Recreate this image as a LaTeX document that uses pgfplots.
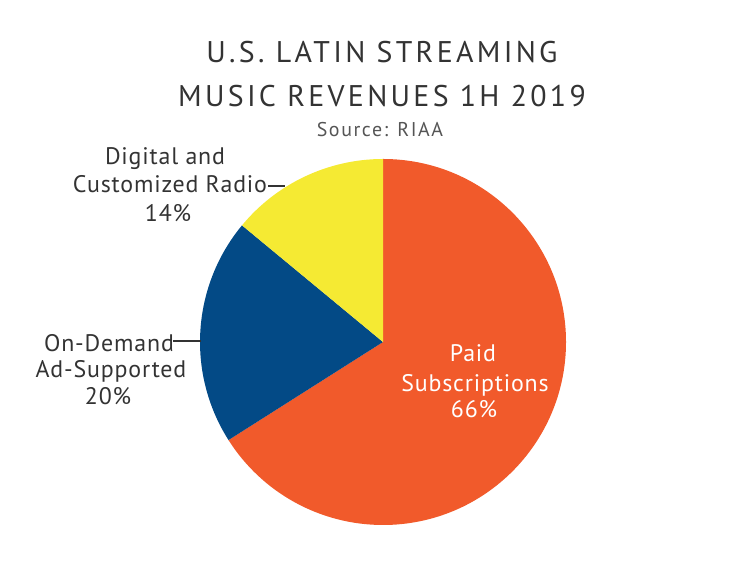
\documentclass[border=0pt]{standalone}
\usepackage{pgfplots}
\pgfplotsset{compat=1.18}
\usepackage{fontspec}
\setmainfont{PT Sans}
\newfontfamily\titlefont[LetterSpace=11]{PT Sans}
\newfontfamily\srcfont[LetterSpace=8]{PT Sans}
\newfontfamily\labfont[LetterSpace=3.5]{PT Sans}
\definecolor{paid}{HTML}{F15A2B}
\definecolor{ondemand}{HTML}{034A86}
\definecolor{digital}{HTML}{F5EA33}
\definecolor{txt}{HTML}{333333}
\definecolor{src}{HTML}{555555}
\def\valPaid{66}
\def\valDemand{20}
\def\valDigital{14}
\begin{document}
\begin{tikzpicture}[x=1bp,y=1bp]
\path (0,0) rectangle (732,573);
\begin{axis}[at={(383bp,231bp)}, anchor=center, hide axis, scale only axis,
  width=366bp, height=366bp, xmin=-1, xmax=1, ymin=-1, ymax=1, clip=false]
\pgfmathsetmacro{\aA}{90}
\pgfmathsetmacro{\aB}{90-3.6*\valPaid}
\pgfmathsetmacro{\aC}{\aB-3.6*\valDemand}
\pgfmathsetmacro{\aD}{\aC-3.6*\valDigital}
\fill[paid] (axis cs:0,0) -- (axis cs:{cos(\aA)},{sin(\aA)}) arc[start angle=\aA, end angle=\aB, radius=183bp] -- cycle;
\fill[ondemand] (axis cs:0,0) -- (axis cs:{cos(\aB)},{sin(\aB)}) arc[start angle=\aB, end angle=\aC, radius=183bp] -- cycle;
\fill[digital] (axis cs:0,0) -- (axis cs:{cos(\aC)},{sin(\aC)}) arc[start angle=\aC, end angle=\aD, radius=183bp] -- cycle;
\end{axis}
% title
\node[anchor=base, text=txt, font=\titlefont\fontsize{30}{36}\selectfont] at (382,510) {U.S. LATIN STREAMING};
\node[anchor=base, text=txt, font=\titlefont\fontsize{30}{36}\selectfont] at (382,466) {MUSIC REVENUES 1H 2019};
\node[anchor=base, text=src, font=\srcfont\fontsize{20}{24}\selectfont] at (380,436) {Source: RIAA};
% labels
\begin{scope}[every node/.style={anchor=base, text=txt, font=\labfont\fontsize{24}{28}\selectfont}]
\node at (165,408) {Digital and};
\node at (170,380) {Customized Radio};
\node at (168,351) {14\%};
\node at (109,221) {On-Demand};
\node at (111,195) {Ad-Supported};
\node at (108,168) {20\%};
\end{scope}
\begin{scope}[every node/.style={anchor=base, text=white, font=\labfont\fontsize{24}{28}\selectfont}]
\node at (473,211) {Paid};
\node at (475,181) {Subscriptions};
\node at (474,155) {66\%};
\end{scope}
\draw[txt, line width=1.2bp] (268,387) -- (285,387);
\draw[txt, line width=1.2bp] (173,232) -- (201,232);
\end{tikzpicture}
\end{document}
